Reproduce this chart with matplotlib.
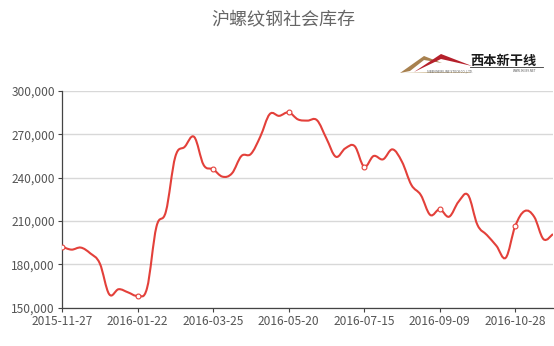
import numpy as np
import matplotlib.pyplot as plt
from matplotlib.path import Path
from matplotlib.patches import PathPatch, Polygon

plt.rcParams['font.family'] = ['Noto Sans CJK SC', 'DejaVu Sans']

# === DATA ===
dates = ["2015-11-27", "2015-12-04", "2015-12-11", "2015-12-18", "2015-12-25",
         "2016-01-01", "2016-01-08", "2016-01-15", "2016-01-22", "2016-01-29",
         "2016-02-05", "2016-02-19", "2016-02-26", "2016-03-04", "2016-03-11",
         "2016-03-18", "2016-03-25", "2016-04-01", "2016-04-08", "2016-04-15",
         "2016-04-22", "2016-04-29", "2016-05-06", "2016-05-13", "2016-05-20",
         "2016-05-27", "2016-06-03", "2016-06-10", "2016-06-17", "2016-06-24",
         "2016-07-01", "2016-07-08", "2016-07-15", "2016-07-22", "2016-07-29",
         "2016-08-05", "2016-08-12", "2016-08-19", "2016-08-26", "2016-09-02",
         "2016-09-09", "2016-09-14", "2016-09-23", "2016-09-30", "2016-10-08",
         "2016-10-14", "2016-10-21", "2016-10-25", "2016-10-28", "2016-11-04",
         "2016-11-11", "2016-11-18", "2016-11-25"]
stock = [192300, 190200, 191600, 187600, 180700,
         159300, 162800, 160600, 158300, 163400,
         206000, 216500, 254500, 261400, 268200,
         248800, 245800, 240700, 243000, 255000,
         256400, 268400, 284000, 282800, 285200,
         280300, 279500, 279800, 267200, 254500,
         260300, 261800, 247600, 255000, 252700,
         259600, 251100, 235000, 228000, 214200,
         218100, 213000, 223400, 228000, 207300,
         200300, 192900, 184600, 206500, 216900,
         213000, 197400, 201000]
y_ticks = [150000, 180000, 210000, 240000, 270000, 300000]

RED = "#e3403a"
GREY = "#555555"

fig = plt.figure(figsize=(5.54, 3.46), dpi=100)
ax = fig.add_axes([62 / 554, 38.3 / 346, 491 / 554, 216.7 / 346])

x = np.arange(len(stock))
y = np.array(stock, dtype=float)

# smooth bezier line through the data points
s = 0.18
verts = [(x[0], y[0])]
codes = [Path.MOVETO]
n = len(x)
for i in range(n - 1):
    p0 = np.array([x[max(i - 1, 0)], y[max(i - 1, 0)]])
    p1 = np.array([x[i], y[i]])
    p2 = np.array([x[i + 1], y[i + 1]])
    p3 = np.array([x[min(i + 2, n - 1)], y[min(i + 2, n - 1)]])
    c1 = p1 + (p2 - p0) * s
    c2 = p2 - (p3 - p1) * s
    verts += [tuple(c1), tuple(c2), tuple(p2)]
    codes += [Path.CURVE4] * 3
ax.add_patch(PathPatch(Path(verts, codes), facecolor='none', edgecolor=RED,
                       lw=1.5, zorder=3))

mk = x[::8]
ax.plot(mk, y[::8], 'o', ms=3.5, mfc='white', mec=RED, mew=0.8, zorder=4)

ax.set_xlim(0, n - 1)
ax.set_ylim(150000, 300000)
ax.set_yticks(y_ticks)
ax.set_yticklabels([f"{v:,}" for v in y_ticks])
ax.set_xticks(mk)
ax.set_xticklabels([dates[i] for i in mk])
ax.tick_params(colors='#444444', labelcolor=GREY, labelsize=8.6, length=3,
               width=0.8, pad=2)
ax.grid(axis='y', color='#d8d8d8', lw=1)
ax.set_axisbelow(True)
for side in ['top', 'right']:
    ax.spines[side].set_visible(False)
for side in ['left', 'bottom']:
    ax.spines[side].set_color('#444444')
    ax.spines[side].set_linewidth(0.9)

fig.text(283 / 554, 1 - 20 / 346, "沪螺纹钢社会库存", ha='center', va='center',
         fontsize=13, color='#666666')


def fp(px, py):
    return (px / 554, 1 - py / 346)


# logo
fig.patches.append(Polygon([fp(400, 73), fp(470, 73), fp(470, 71.5), fp(428, 71.5)],
                           closed=True, transform=fig.transFigure,
                           facecolor='#d8c7a8', edgecolor='none'))
fig.patches.append(Polygon([fp(400, 73), fp(424, 56), fp(442, 63), fp(424, 60),
                            fp(410, 71)],
                           closed=True, transform=fig.transFigure,
                           facecolor='#a8814f', edgecolor='none'))
fig.patches.append(Polygon([fp(414, 72), fp(441, 54), fp(472, 66), fp(441, 59)],
                           closed=True, transform=fig.transFigure,
                           facecolor='#b5202b', edgecolor='none'))
fig.text(*fp(503, 61), "西本新干线", ha='center', va='center',
         fontsize=9.5, fontweight='bold', color='#1a1a1a')
fig.add_artist(plt.Line2D([fp(470, 0)[0], fp(543, 0)[0]], [fp(0, 67)[1]] * 2,
                          transform=fig.transFigure, color='#333333', lw=0.6))
fig.text(*fp(450, 71.5), "SIBEN NEW LINE STOCK CO.,LTD.", ha='center', va='center',
         fontsize=2.2, color='#555555')
fig.text(*fp(525, 71.5), "WWW.96369.NET", ha='center', va='center',
         fontsize=2.2, color='#555555')

fig.savefig("out.png", dpi=100, facecolor='white')
